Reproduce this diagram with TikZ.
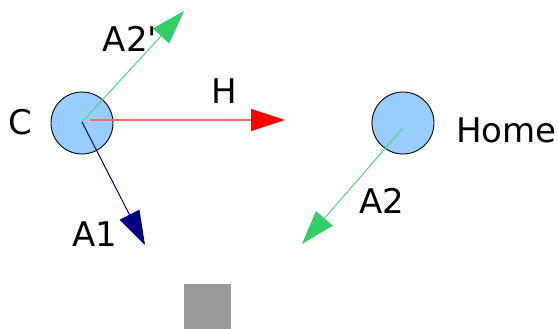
\documentclass[tikz,border=0pt]{standalone}
\usepackage{fontspec}
\setmainfont{DejaVu Sans}
\usetikzlibrary{arrows.meta}
\definecolor{SkyBlue}{HTML}{99CCFF}
\definecolor{LeafGreen}{HTML}{33CC66}
\definecolor{LeafLine}{HTML}{55D27A}
\definecolor{NavyBlue}{HTML}{000080}
\definecolor{PaleRed}{HTML}{FF6666}

\begin{document}
\begin{tikzpicture}[
            x=1pt, y=-1pt,
            ball/.style={circle, draw=black, line width=.9pt, fill=SkyBlue, minimum size=62pt, inner sep=0pt},
            vec/.style={line width=1pt},
            lbl/.style={font=\fontsize{34}{40}\selectfont, inner sep=0pt},
            head/.style={-{Triangle[length=34pt, width=22pt, color=#1]}},
        ]
            \useasboundingbox (0, 0) rectangle (558, 329);

            %% the two balls
            \node[ball] (cball) at (82, 123) {};
            \node[ball] (hball) at (403, 123) {};
            \coordinate (c) at (82, 122);
            \coordinate (cr) at (90, 120);
            \coordinate (h) at (403, 128);

            %% free ends of the vectors
            \coordinate (hend) at (285, 120);
            \coordinate (a2pend) at (184, 11);
            \coordinate (a1end) at (145, 245);
            \coordinate (a2end) at (302, 244);

            \draw[vec, line width=1.5pt, head=red, draw=PaleRed] (cr) -- (hend);
            \draw[vec, head=LeafGreen, draw=LeafLine] (c) -- (a2pend);
            \draw[vec, head=NavyBlue, draw=NavyBlue] (c) -- (a1end);
            \draw[vec, head=LeafGreen, draw=LeafLine] (h) -- (a2end);

            \node[lbl] (clbl) at (20.5, 122) {C};
            \node[lbl, anchor=west] (homelbl) at (456, 130) {Home};
            \node[lbl] (hlbl) at (224, 91.5) {H};
            \node[lbl] (a2plbl) at (130, 39) {A2\textquotesingle};
            \node[lbl] (a1lbl) at (94.5, 234.5) {A1};
            \node[lbl] (a2lbl) at (381.5, 201) {A2};

            \fill[black!40] (184, 284) rectangle (231, 329);
        \end{tikzpicture}
\end{document}
